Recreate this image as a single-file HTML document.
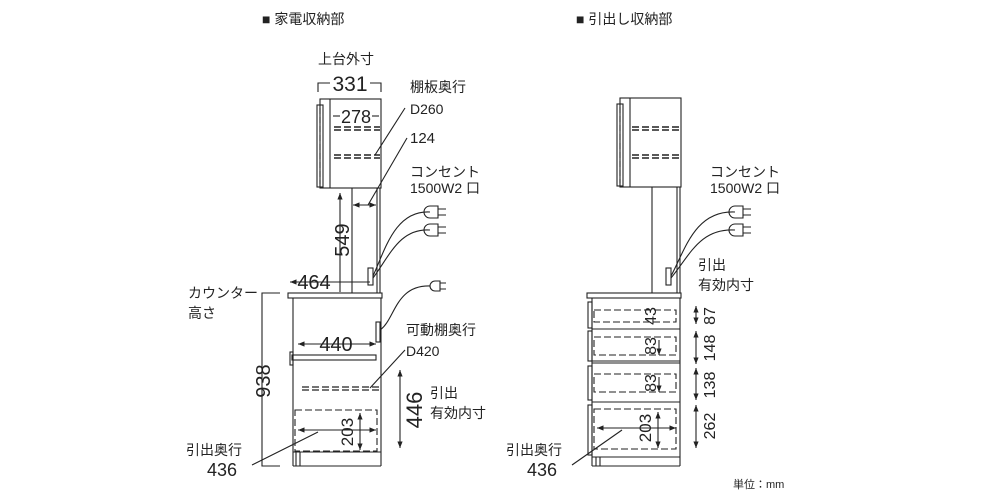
<!DOCTYPE html>
<html><head><meta charset="utf-8"><style>
html,body{margin:0;padding:0;background:#fff;}
svg{display:block;font-family:"Liberation Sans","Noto Sans CJK JP",sans-serif;}
</style></head><body>
<svg width="1000" height="500" viewBox="0 0 1000 500" xmlns="http://www.w3.org/2000/svg">
<defs>
<marker id="a" viewBox="0 0 10 10" refX="10" refY="5" markerWidth="6" markerHeight="6" orient="auto-start-reverse"><path d="M0,1 L10,5 L0,9 z" fill="#222"/></marker>
</defs>
<g fill="#222" font-size="14">
<text x="262" y="24">■ 家電収納部</text>
<text x="576" y="24">■ 引出し収納部</text>
<text x="318" y="64">上台外寸</text>
<text x="410" y="92">棚板奥行</text>
<text x="410" y="114">D260</text>
<text x="410" y="143" font-size="15">124</text>
<text x="410" y="177">コンセント</text>
<text x="410" y="193">1500W2 口</text>
<text x="188" y="298">カウンター</text>
<text x="188" y="318">高さ</text>
<text x="406" y="335">可動棚奥行</text>
<text x="406" y="356">D420</text>
<text x="430" y="398">引出</text>
<text x="430" y="418">有効内寸</text>
<text x="186" y="455">引出奥行</text>
<text x="207" y="476" font-size="18">436</text>
<text x="710" y="177">コンセント</text>
<text x="710" y="193">1500W2 口</text>
<text x="698" y="270">引出</text>
<text x="698" y="290">有効内寸</text>
<text x="506" y="455">引出奥行</text>
<text x="527" y="476" font-size="18">436</text>
<text x="733" y="488" font-size="11">単位：mm</text>
<text x="350" y="91" font-size="21" text-anchor="middle">331</text>
<text x="356" y="123" font-size="18" text-anchor="middle">278</text>
<text x="314" y="289" font-size="20" text-anchor="middle">464</text>
<text x="336" y="351" font-size="20" text-anchor="middle">440</text>
<text font-size="20" transform="translate(349,240) rotate(-90)" text-anchor="middle">549</text>
<text font-size="20" transform="translate(270,381) rotate(-90)" text-anchor="middle">938</text>
<text font-size="22" transform="translate(422,410) rotate(-90)" text-anchor="middle">446</text>
<text font-size="17" transform="translate(353,432) rotate(-90)" text-anchor="middle">203</text>
<text font-size="16" transform="translate(656,316) rotate(-90)" text-anchor="middle">43</text>
<text font-size="16" transform="translate(656,346) rotate(-90)" text-anchor="middle">83</text>
<text font-size="16" transform="translate(656,383) rotate(-90)" text-anchor="middle">83</text>
<text font-size="17" transform="translate(651,428) rotate(-90)" text-anchor="middle">203</text>
<text font-size="16" transform="translate(715,316) rotate(-90)" text-anchor="middle">87</text>
<text font-size="16" transform="translate(715,348) rotate(-90)" text-anchor="middle">148</text>
<text font-size="16" transform="translate(715,385) rotate(-90)" text-anchor="middle">138</text>
<text font-size="16" transform="translate(715,426) rotate(-90)" text-anchor="middle">262</text>
</g>
<g fill="none" stroke="#222" stroke-width="1.1">
<!-- LEFT UNIT -->
<path d="M318,92 V83 H330 M370,83 H381 V92"/>
<rect x="320" y="99" width="61" height="89"/>
<line x1="330" y1="99" x2="330" y2="188"/>
<rect x="317" y="105" width="6" height="82"/>
<line x1="320" y1="108" x2="320" y2="184" stroke-dasharray="6,3"/>
<line x1="333" y1="116" x2="340" y2="116"/><line x1="372" y1="116" x2="379" y2="116"/>
<line x1="334" y1="127" x2="380" y2="127" stroke-dasharray="7,3" stroke-width="1.5"/>
<line x1="334" y1="130" x2="380" y2="130" stroke-dasharray="7,3" stroke-width="1.5"/>
<line x1="334" y1="155" x2="380" y2="155" stroke-dasharray="7,3" stroke-width="1.5"/>
<line x1="334" y1="158" x2="380" y2="158" stroke-dasharray="7,3" stroke-width="1.5"/>
<line x1="375" y1="155" x2="405" y2="108"/>
<line x1="352" y1="188" x2="352" y2="293"/>
<line x1="377" y1="188" x2="377" y2="293"/><line x1="380" y1="188" x2="380" y2="293"/>
<line x1="353" y1="205" x2="376" y2="205" marker-start="url(#a)" marker-end="url(#a)"/>
<line x1="368" y1="205" x2="407" y2="138"/>
<line x1="340" y1="193" x2="340" y2="292" marker-start="url(#a)"/>
<line x1="290" y1="282" x2="370" y2="282" marker-start="url(#a)"/>
<rect x="368" y="268" width="5" height="17"/>
<path d="M373,276 C385,250 395,210 430,212 M373,278 C390,255 400,228 430,230"/>
<path d="M430,206 h8 v12 h-8 a6,6 0 0 1 0,-12 M430,224 h8 v12 h-8 a6,6 0 0 1 0,-12"/>
<path d="M438,209 h8 M438,215 h8 M438,227 h8 M438,233 h8"/>
<rect x="288" y="293" width="94" height="5"/>
<line x1="293" y1="298" x2="293" y2="466"/><line x1="381" y1="298" x2="381" y2="466"/>
<rect x="376" y="322" width="4" height="20"/>
<path d="M380,330 C395,320 395,285 430,286"/>
<path d="M435,281 h5 v10 h-5 a5,5 0 0 1 0,-10 M440,283 h6 M440,289 h6"/>
<line x1="298" y1="344" x2="376" y2="344" marker-start="url(#a)" marker-end="url(#a)"/>
<rect x="292" y="355" width="84" height="5"/>
<rect x="290" y="352" width="3" height="13"/>
<line x1="302" y1="387" x2="380" y2="387" stroke-dasharray="7,3" stroke-width="1.3"/>
<line x1="302" y1="390" x2="380" y2="390" stroke-dasharray="7,3" stroke-width="1.3"/>
<line x1="370" y1="388" x2="405" y2="350"/>
<rect x="295" y="410" width="82" height="41" stroke-dasharray="7,3"/>
<line x1="298" y1="430" x2="376" y2="430" marker-start="url(#a)" marker-end="url(#a)"/>
<line x1="360" y1="413" x2="360" y2="450" marker-start="url(#a)" marker-end="url(#a)"/>
<line x1="293" y1="452" x2="381" y2="452"/>
<path d="M296,452 V466 M300,452 V466 M293,466 H381"/>
<line x1="252" y1="465" x2="318" y2="432"/>
<path d="M280,293 H262 V466 H280"/>
<line x1="400" y1="370" x2="400" y2="448" marker-start="url(#a)" marker-end="url(#a)"/>
<!-- RIGHT UNIT -->
<rect x="620" y="98" width="61" height="89"/>
<line x1="630" y1="98" x2="630" y2="187"/>
<rect x="617" y="104" width="6" height="82"/>
<line x1="620" y1="107" x2="620" y2="183" stroke-dasharray="6,3"/>
<line x1="632" y1="127" x2="680" y2="127" stroke-dasharray="7,3" stroke-width="1.5"/>
<line x1="632" y1="130" x2="680" y2="130" stroke-dasharray="7,3" stroke-width="1.5"/>
<line x1="632" y1="155" x2="680" y2="155" stroke-dasharray="7,3" stroke-width="1.5"/>
<line x1="632" y1="158" x2="680" y2="158" stroke-dasharray="7,3" stroke-width="1.5"/>
<line x1="652" y1="187" x2="652" y2="293"/>
<line x1="677" y1="187" x2="677" y2="293"/><line x1="680" y1="187" x2="680" y2="293"/>
<rect x="666" y="268" width="5" height="17"/>
<path d="M671,276 C685,250 695,210 735,212 M671,278 C690,255 700,228 735,230"/>
<path d="M735,206 h8 v12 h-8 a6,6 0 0 1 0,-12 M735,224 h8 v12 h-8 a6,6 0 0 1 0,-12"/>
<path d="M743,209 h8 M743,215 h8 M743,227 h8 M743,233 h8"/>
<rect x="587" y="293" width="94" height="5"/>
<line x1="592" y1="298" x2="592" y2="466"/><line x1="680" y1="298" x2="680" y2="466"/>
<line x1="592" y1="329" x2="680" y2="329"/>
<line x1="592" y1="361" x2="680" y2="361"/><line x1="592" y1="363" x2="680" y2="363"/>
<line x1="592" y1="402" x2="680" y2="402"/>
<line x1="592" y1="457" x2="680" y2="457"/>
<rect x="588" y="302" width="4" height="26"/><rect x="588" y="331" width="4" height="30"/>
<rect x="588" y="366" width="4" height="34"/><rect x="588" y="405" width="4" height="50"/>
<rect x="594" y="310" width="82" height="12" stroke-dasharray="7,3"/>
<rect x="594" y="337" width="82" height="18" stroke-dasharray="7,3"/>
<rect x="594" y="374" width="82" height="18" stroke-dasharray="7,3"/>
<rect x="594" y="409" width="82" height="40" stroke-dasharray="7,3"/>
<line x1="659" y1="340" x2="659" y2="355" marker-end="url(#a)"/>
<line x1="659" y1="377" x2="659" y2="392" marker-end="url(#a)"/>
<line x1="658" y1="412" x2="658" y2="448" marker-start="url(#a)" marker-end="url(#a)"/>
<line x1="597" y1="428" x2="676" y2="428" marker-start="url(#a)" marker-end="url(#a)"/>
<line x1="572" y1="465" x2="622" y2="430"/>
<path d="M596,457 V466 M600,457 V466 M592,466 H680"/>
<line x1="696" y1="306" x2="696" y2="324" marker-start="url(#a)" marker-end="url(#a)"/>
<line x1="696" y1="331" x2="696" y2="364" marker-start="url(#a)" marker-end="url(#a)"/>
<line x1="696" y1="368" x2="696" y2="400" marker-start="url(#a)" marker-end="url(#a)"/>
<line x1="696" y1="405" x2="696" y2="448" marker-start="url(#a)" marker-end="url(#a)"/>
</g>
</svg>
</body></html>
